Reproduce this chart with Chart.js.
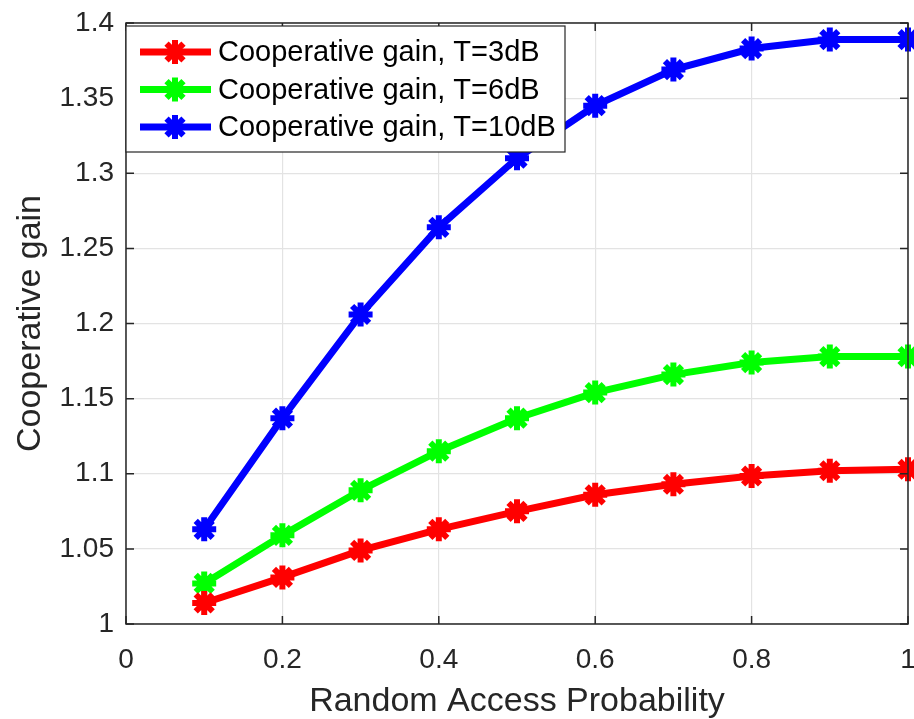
<!DOCTYPE html>
<html>
<head>
<meta charset="utf-8">
<script src="https://cdn.jsdelivr.net/npm/chart.js@4.4.0/dist/chart.umd.min.js"></script>
<style>
html, body { margin: 0; padding: 0; background: #fff; }
</style>
</head>
<body>
<canvas id="gainChart" width="914" height="719"></canvas>
<script>
// data
const accessProb = [0.1, 0.2, 0.3, 0.4, 0.5, 0.6, 0.7, 0.8, 0.9, 1.0];
const gainT3 = [1.014, 1.031, 1.049, 1.063, 1.075, 1.086, 1.093, 1.0985, 1.102, 1.103];
const gainT6 = [1.027, 1.059, 1.089, 1.115, 1.137, 1.154, 1.166, 1.174, 1.178, 1.178];
const gainT10 = [1.063, 1.137, 1.206, 1.264, 1.310, 1.345, 1.369, 1.383, 1.389, 1.389];
const seriesLabels = ["Cooperative gain, T=3dB", "Cooperative gain, T=6dB", "Cooperative gain, T=10dB"];
const seriesColors = ["#ff0000", "#00ff00", "#0000ff"];
const xTicks = [0, 0.2, 0.4, 0.6, 0.8, 1];
const yTicks = [1, 1.05, 1.1, 1.15, 1.2, 1.25, 1.3, 1.35, 1.4];

const FONT = "'Liberation Sans', Arial, sans-serif";
const AXIS_COLOR = "#262626";

function toPoints(ys) {
    return accessProb.map(function(x, i) { return { x: x, y: ys[i] }; });
}

function makeDataset(label, ys, color) {
    return {
        label: label,
        data: toPoints(ys),
        borderColor: color,
        backgroundColor: color,
        borderWidth: 7,
        pointStyle: "star",
        pointRadius: 12,
        pointBorderWidth: 6,
        pointBorderColor: color,
        pointBackgroundColor: color,
        clip: false,
        tension: 0
    };
}

// MATLAB-ish box with inward ticks on all four sides
const boxPlugin = {
    id: "boxPlugin",
    afterDatasetsDraw(chart) {
        const ctx = chart.ctx;
        const a = chart.chartArea;
        const xs = chart.scales.x;
        const ys = chart.scales.y;
        const tl = 8;
        ctx.save();
        ctx.strokeStyle = AXIS_COLOR;
        ctx.lineWidth = 1.5;
        ctx.strokeRect(a.left, a.top, a.right - a.left, a.bottom - a.top);
        ctx.beginPath();
        xTicks.forEach(function(v) {
            const px = xs.getPixelForValue(v);
            ctx.moveTo(px, a.bottom); ctx.lineTo(px, a.bottom - tl);
            ctx.moveTo(px, a.top); ctx.lineTo(px, a.top + tl);
        });
        yTicks.forEach(function(v) {
            const py = ys.getPixelForValue(v);
            ctx.moveTo(a.left, py); ctx.lineTo(a.left + tl, py);
            ctx.moveTo(a.right, py); ctx.lineTo(a.right - tl, py);
        });
        ctx.stroke();
        ctx.restore();
    }
};

// legend drawn inside the plot, top-left
const insideLegend = {
    id: "insideLegend",
    afterDraw(chart) {
        const ctx = chart.ctx;
        const a = chart.chartArea;
        const bx = a.left;
        const by = a.top + 3;
        const bw = 439;
        const bh = 126;
        ctx.save();
        ctx.fillStyle = "#fff";
        ctx.fillRect(bx, by, bw, bh);
        ctx.strokeStyle = AXIS_COLOR;
        ctx.lineWidth = 1.2;
        ctx.strokeRect(bx, by, bw, bh);
        ctx.font = "29px " + FONT;
        ctx.textBaseline = "middle";
        chart.data.datasets.forEach(function(ds, i) {
            const ry = by + 26 + i * 37.5;
            ctx.strokeStyle = ds.borderColor;
            ctx.lineWidth = 7;
            ctx.beginPath();
            ctx.moveTo(bx + 14, ry);
            ctx.lineTo(bx + 85, ry);
            ctx.stroke();
            ctx.fillStyle = ds.borderColor;
            ctx.lineWidth = 6;
            Chart.helpers.drawPoint(ctx, { pointStyle: "star", radius: 12, rotation: 0, borderWidth: 6 }, bx + 49, ry);
            ctx.fillStyle = "#000";
            ctx.fillText(ds.label, bx + 92, ry + 1);
        });
        ctx.restore();
    }
};

new Chart(document.getElementById("gainChart"), {
    type: "line",
    data: {
        datasets: [
            makeDataset(seriesLabels[0], gainT3, seriesColors[0]),
            makeDataset(seriesLabels[1], gainT6, seriesColors[1]),
            makeDataset(seriesLabels[2], gainT10, seriesColors[2])
        ]
    },
    options: {
        responsive: false,
        animation: false,
        layout: { autoPadding: false, padding: { top: 23, right: 6, left: 0, bottom: 0 } },
        plugins: {
            legend: { display: false },
            tooltip: { enabled: false }
        },
        scales: {
            x: {
                type: "linear",
                min: 0,
                max: 1,
                afterBuildTicks(scale) {
                    scale.ticks = xTicks.map(function(v) { return { value: v }; });
                },
                afterFit(scale) {
                    scale.height = 95;
                    scale.paddingLeft = 0;
                    scale.paddingRight = 0;
                },
                grid: { color: "#e3e3e3", lineWidth: 1.2, drawTicks: false },
                border: { display: false },
                ticks: {
                    padding: 19,
                    color: AXIS_COLOR,
                    font: { family: FONT, size: 28 },
                    maxRotation: 0,
                    callback: function(v) { return String(Number(v.toFixed(2))); }
                },
                title: {
                    display: true,
                    text: "Random Access Probability",
                    color: AXIS_COLOR,
                    font: { family: FONT, size: 34, lineHeight: 1 },
                    padding: { top: 0, bottom: 0 }
                }
            },
            y: {
                type: "linear",
                min: 1,
                max: 1.4,
                afterBuildTicks(scale) {
                    scale.ticks = yTicks.map(function(v) { return { value: v }; });
                },
                afterFit(scale) {
                    scale.width = 126;
                    scale.paddingTop = 0;
                    scale.paddingBottom = 0;
                },
                grid: { color: "#e3e3e3", lineWidth: 1.2, drawTicks: false },
                border: { display: false },
                ticks: {
                    padding: 12,
                    color: AXIS_COLOR,
                    font: { family: FONT, size: 28 },
                    callback: function(v) { return String(Number(v.toFixed(2))); }
                },
                title: {
                    display: true,
                    text: "Cooperative gain",
                    color: AXIS_COLOR,
                    font: { family: FONT, size: 34 },
                    padding: { top: 10, bottom: 0 }
                }
            }
        }
    },
    plugins: [boxPlugin, insideLegend]
});
</script>
</body>
</html>
